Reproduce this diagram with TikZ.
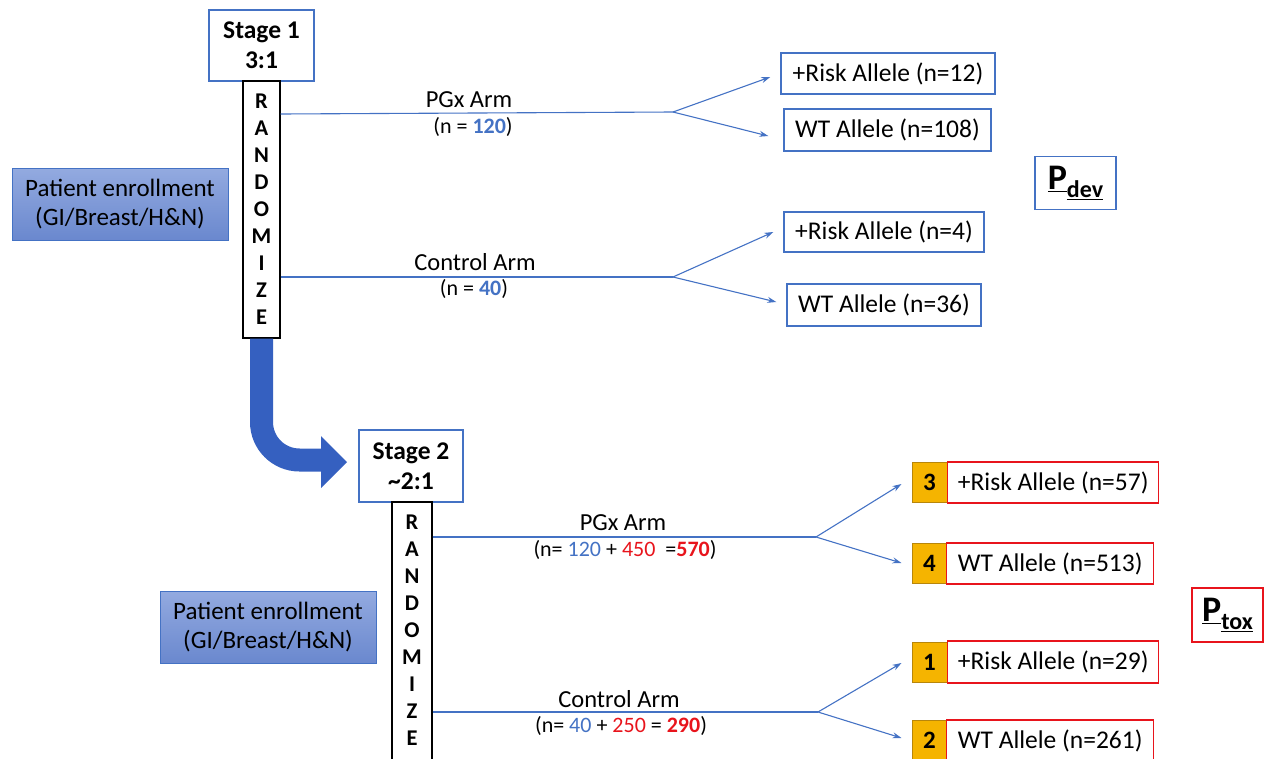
\documentclass[tikz,border=0pt]{standalone}
\usepackage{fontspec}
\setmainfont{Carlito}
\usetikzlibrary{arrows.meta}
\definecolor{obl}{HTML}{4472C4}
\definecolor{arrowbl}{HTML}{3560C0}
\definecolor{rd}{HTML}{E8141C}
\definecolor{orn}{HTML}{F5B400}
\definecolor{ornd}{HTML}{B8860B}
\definecolor{enrtop}{HTML}{93AAE0}
\definecolor{enrbot}{HTML}{6A88CE}
\tikzset{
  bluebox/.style={draw=obl, line width=1.4pt, fill=white, inner sep=0pt, font=\fontsize{25.5}{28}\selectfont},
  redbox/.style={draw=rd, line width=1.4pt, fill=white, inner sep=0pt, font=\fontsize{25.5}{28}\selectfont},
  numbox/.style={draw=ornd, line width=1pt, fill=orn, inner sep=0pt, minimum width=35pt, minimum height=40pt, font=\bfseries\fontsize{25}{28}\selectfont},
  stagebox/.style={draw=obl, line width=1.4pt, fill=white, inner sep=0pt, align=center, font=\bfseries\fontsize{25.5}{30}\selectfont},
  strip/.style={draw=black, line width=1.4pt, fill=white, inner sep=0pt, align=center, font=\bfseries\fontsize{22.5}{27}\selectfont},
  enroll/.style={draw=obl, line width=1pt, top color=enrtop, bottom color=enrbot, inner sep=0pt, align=center, font=\fontsize{25}{29}\selectfont},
  arm/.style={draw=obl, line width=1.1pt},
  armarrow/.style={draw=obl, line width=1.1pt, -{Stealth[length=9pt,width=6pt]}},
  armlabel/.style={font=\fontsize{24.5}{26}\selectfont, inner sep=0pt},
  nlabel/.style={font=\fontsize{22}{24}\selectfont, inner sep=0pt},
  pbox/.style={line width=1.4pt, fill=white, inner sep=0pt, font=\bfseries\fontsize{36}{38}\selectfont},
}
\newcommand{\bl}[1]{\textcolor{obl}{#1}}
\newcommand{\rdn}[1]{\textcolor{rd}{#1}}
\begin{document}
\begin{tikzpicture}[x=1pt,y=-1pt]
\useasboundingbox (0,0) rectangle (1266,758);
% ---------- Stage 1 ----------
\node[stagebox, minimum width=105pt, minimum height=71pt] (s1) at (261.5,45.5) {Stage 1\\3:1};
\node[strip, minimum width=37pt, minimum height=257pt] (r1) at (261.5,209.5) {R\\A\\N\\D\\O\\M\\I\\Z\\E};
\node[enroll, minimum width=216pt, minimum height=72pt] (e1) at (120,204) {Patient enrollment\\(GI/Breast/H\&N)};

\coordinate (f1) at (673,112);
\coordinate (f2) at (673,277);
\draw[arm] (r1.east |- 0,114) -- (f1);
\draw[arm] (r1.east |- 0,277) -- (f2);
\node[armlabel] (l1) at (469,100) {PGx Arm};
\node[nlabel] (n1) at (473,127) {(n = \textbf{\bl{120}})};
\node[armlabel] (l2) at (475,262) {Control Arm};
\node[nlabel] (n2) at (474,289) {(n = \textbf{\bl{40}})};

\node[bluebox, minimum width=214pt, minimum height=41pt] (b1) at (888,73.5) {+Risk Allele (n=12)};
\node[bluebox, minimum width=207pt, minimum height=42pt] (b2) at (887.5,130) {WT Allele (n=108)};
\node[bluebox, minimum width=200pt, minimum height=40pt] (b3) at (884,232) {+Risk Allele (n=4)};
\node[bluebox, minimum width=194pt, minimum height=42pt] (b4) at (884,305) {WT Allele (n=36)};
\draw[armarrow] (f1) -- ([xshift=-10pt]b1.west |- 0,77);
\draw[armarrow] (f1) -- ([xshift=-15pt]b2.west |- 0,136);
\draw[armarrow] (f2) -- ([xshift=-10pt]b3.west |- 0,232);
\draw[armarrow] (f2) -- ([xshift=-10pt]b4.west |- 0,302);
\node[pbox, draw=obl, minimum width=81pt, minimum height=53pt] (pd) at (1075.5,183)
  {\underline{P}\raisebox{-8pt}{\fontsize{24}{26}\selectfont\underline{dev}}};

% ---------- big arrow ----------
\coordinate (ab) at (322,460);
\draw[arrowbl, line width=23pt, rounded corners=38pt] (r1.south) -- (261.5,460) -- (ab);
\fill[arrowbl] (321,436) -- (347,462) -- (321,488) -- cycle;

% ---------- Stage 2 ----------
\node[stagebox, minimum width=104pt, minimum height=72pt] (s2) at (411,466) {Stage 2\\\textasciitilde 2:1};
\node[strip, minimum width=40pt, minimum height=262pt] (r2) at (412,633) {};
\node[strip, draw=none, fill=none] (r2t) at (412,630) {R\\A\\N\\D\\O\\M\\I\\Z\\E};
\node[enroll, minimum width=216pt, minimum height=72pt] (e2) at (268,627) {Patient enrollment\\(GI/Breast/H\&N)};

\coordinate (g1) at (816,537);
\coordinate (g2) at (818,712);
\draw[arm] (r2.east |- 0,537) -- (g1);
\draw[arm] (r2.east |- 0,712) -- (g2);
\node[armlabel] (l3) at (623,523) {PGx Arm};
\node[nlabel] (n3) at (625,550) {(n= \bl{120} + \rdn{450} \ =\textbf{\rdn{570}})};
\node[armlabel] (l4) at (619,699) {Control Arm};
\node[nlabel] (n4) at (621,726) {(n= \bl{40} + \rdn{250} = \textbf{\rdn{290}})};

\node[numbox] (q3) at (929.5,482) {3};
\node[redbox, minimum width=211pt, minimum height=41pt, anchor=west] (c3) at (947,482.5) {+Risk Allele (n=57)};
\node[numbox] (q4) at (929.5,563.5) {4};
\node[redbox, minimum width=207pt, minimum height=41pt, anchor=west] (c4) at (946,563.5) {WT Allele (n=513)};
\node[numbox] (q1) at (929.5,662) {1};
\node[redbox, minimum width=211pt, minimum height=42pt, anchor=west] (c1) at (947,662) {+Risk Allele (n=29)};
\node[numbox] (q2) at (929.5,740) {2};
\node[redbox, minimum width=207pt, minimum height=41pt, anchor=west] (c2) at (946,740.5) {WT Allele (n=261)};
\draw[armarrow] (g1) -- ([xshift=-10pt]q3.west |- 0,484);
\draw[armarrow] (g1) -- ([xshift=-10pt]q4.west |- 0,563);
\draw[armarrow] (g2) -- ([xshift=-10pt]q1.west |- 0,663);
\draw[armarrow] (g2) -- ([xshift=-10pt]q2.west |- 0,738);
\node[pbox, draw=rd, minimum width=71pt, minimum height=54pt] (pt) at (1227.5,615)
  {\underline{P}\raisebox{-8pt}{\fontsize{24}{26}\selectfont\underline{tox}}};
\end{tikzpicture}
\end{document}
